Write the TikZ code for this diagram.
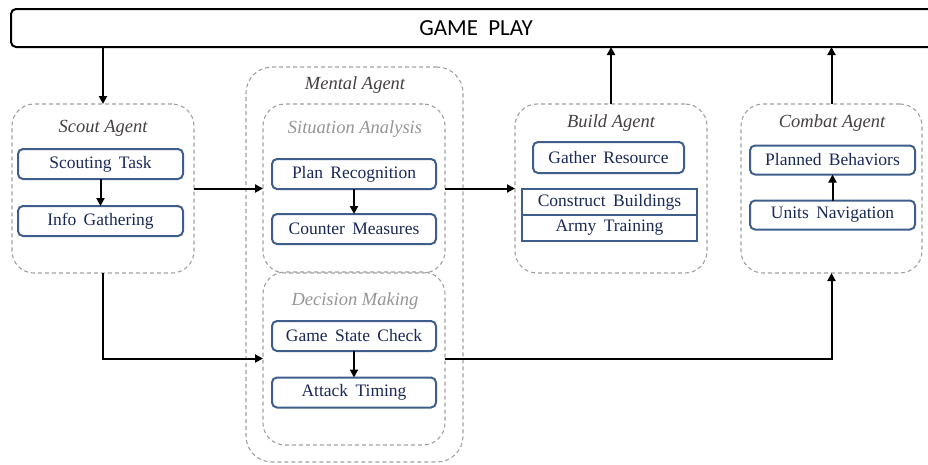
\documentclass[tikz,border=0pt]{standalone}
\usepackage{fontspec}
\setmainfont{Liberation Serif}
\newfontfamily\gamefont{Carlito}
\usetikzlibrary{arrows.meta}
\definecolor{navy}{HTML}{1A2858}
\definecolor{taskborder}{HTML}{3F5E8C}
\definecolor{dashgray}{HTML}{A0A0A0}
\definecolor{titlegray}{HTML}{474040}
\definecolor{subgray}{HTML}{959595}
\begin{document}
\begin{tikzpicture}[x=1pt,y=-1pt,
  container/.style={draw=dashgray, line width=1.1pt, dash pattern=on 4pt off 3pt, rounded corners=22pt, inner sep=0pt, outer sep=0pt},
  tasktext/.style={text=navy, font={\fontsize{17.5}{20}\selectfont\spaceskip=0.42em\relax}},
  task/.style={tasktext, draw=taskborder, line width=2pt, rounded corners=5pt, minimum width=164pt, minimum height=30pt, inner sep=0pt, outer sep=0pt},
  flat/.style={tasktext, draw=taskborder, line width=2pt, minimum width=175pt, minimum height=26pt, inner sep=0pt, outer sep=0pt},
  atitle/.style={font={\fontsize{18.5}{20}\selectfont\itshape}, text=titlegray, inner sep=0pt},
  stitle/.style={font={\fontsize{18.5}{20}\selectfont\itshape}, text=subgray, inner sep=0pt},
  conn/.style={line width=2pt, -{Triangle[length=8pt,width=8pt]}}]
\useasboundingbox (0,0) rectangle (928,464);
\clip (0,0) rectangle (928,464);

% top bar
\node[draw, line width=2pt, rounded corners=5pt, minimum width=930pt, minimum height=38pt, inner sep=0pt, outer sep=0pt,
      font={\gamefont\fontsize{23}{26}\selectfont}] (game) at (476,28) {GAME\hspace{0.45em}PLAY};

% containers
\node[container, minimum width=182pt, minimum height=169pt] (scout) at (103,188.5) {};
\node[container, rounded corners=26pt, minimum width=217pt, minimum height=395pt] (mental) at (354.5,264.5) {};
\node[container, minimum width=182pt, minimum height=169pt] (situation) at (354,188.5) {};
\node[container, minimum width=182pt, minimum height=173pt] (decision) at (354,358.5) {};
\node[container, minimum width=192pt, minimum height=169pt] (build) at (611,188.5) {};
\node[container, minimum width=181pt, minimum height=169pt] (combat) at (831.5,188.5) {};

% titles
\node[atitle] (scoutT) at (103,128) {Scout Agent};
\node[atitle] (mentalT) at (355,85) {Mental Agent};
\node[stitle] (situationT) at (355,129) {Situation Analysis};
\node[stitle] (decisionT) at (355,301) {Decision Making};
\node[atitle] (buildT) at (611,123) {Build Agent};
\node[atitle] (combatT) at (832,123) {Combat Agent};

% tasks
\node[task, minimum width=165pt] (scouting) at (100.5,164) {Scouting Task};
\node[task, minimum width=165pt] (info) at (100.5,221) {Info Gathering};
\node[task] (plan) at (354,174) {Plan Recognition};
\node[task] (counter) at (354,229) {Counter Measures};
\node[task] (state) at (354,336) {Game State Check};
\node[task] (attack) at (354,392.5) {Attack Timing};
\node[task, minimum width=151pt, minimum height=31pt] (gather) at (608.5,157.5) {Gather Resource};
\node[flat] (construct) at (609.5,202) {Construct Buildings};
\node[flat] (army) at (609.5,228) {Army Training};
\node[task, minimum width=165pt, minimum height=29pt] (planned) at (832.5,160) {Planned Behaviors};
\node[task, minimum width=165pt, minimum height=29pt] (units) at (832.5,215) {Units Navigation};

% connectors
\draw[conn] (game.south -| scout.north) -- (scout.north);
\draw[conn] (scouting) -- (info);
\draw[conn] (plan) -- (counter);
\draw[conn] (state) -- (attack);
\draw[conn] (units) -- (planned);
\draw[conn] (scout.east) -- (situation.west);
\draw[conn] (situation.east) -- (build.west);
\draw[conn] (scout.south) |- (decision.west);
\draw[conn] (decision.east) -| (combat.south);
\draw[conn] (build.north) -- (build.north |- game.south);
\draw[conn] (combat.north) -- (combat.north |- game.south);
\end{tikzpicture}
\end{document}
